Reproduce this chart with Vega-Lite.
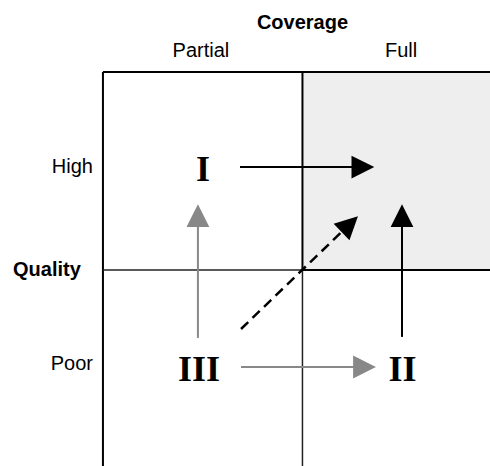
{
  "$schema": "https://vega.github.io/schema/vega-lite/v6.json",
  "width": 490,
  "height": 466,
  "autosize": "none",
  "padding": 0,
  "background": "white",
  "config": {"view": {"stroke": null}},
  "datasets": {
    "quad": [{"x": 1, "y": 1, "x2": 1.96, "y2": 2}],
    "frame": [
      {"x": 0, "y": 2, "x2": 1, "y2": 2},
      {"x": 0, "y": 2, "x2": 0, "y2": 0}
    ],
    "inner": [
      {"x": 0, "y": 1, "x2": 1, "y2": 1},
      {"x": 1, "y": 1, "x2": 1, "y2": 0}
    ],
    "blackShafts": [
      {"x": 0.687, "y": 1.52, "x2": 1.263, "y2": 1.52},
      {"x": 1.499, "y": 0.662, "x2": 1.499, "y2": 1.242}
    ],
    "greyShafts": [
      {"x": 0.476, "y": 0.657, "x2": 0.476, "y2": 1.242},
      {"x": 0.692, "y": 0.51, "x2": 1.268, "y2": 0.51}
    ],
    "dashed": [{"x": 0.692, "y": 0.702, "x2": 1.201, "y2": 1.197}],
    "heads": [
      {"x": 1.303, "y": 1.52, "dir": "right", "tone": "black"},
      {"x": 1.499, "y": 1.275, "dir": "up", "tone": "black"},
      {"x": 1.237, "y": 1.232, "dir": "diag", "tone": "black"},
      {"x": 0.476, "y": 1.275, "dir": "up", "tone": "grey"},
      {"x": 1.311, "y": 0.51, "dir": "right", "tone": "grey"}
    ],
    "colLabels": [
      {"x": 0.491, "y": 2.076, "label": "Partial"},
      {"x": 1.494, "y": 2.076, "label": "Full"}
    ],
    "rowLabels": [
      {"x": -0.05, "y": 1.49, "label": "High"},
      {"x": -0.05, "y": 0.495, "label": "Poor"}
    ],
    "titles": [
      {"x": 1.0, "y": 2.217, "label": "Coverage"},
      {"x": -0.281, "y": 0.97, "label": "Quality"}
    ],
    "numerals": [
      {"x": 0.501, "y": 1.449, "label": "I"},
      {"x": 0.481, "y": 0.439, "label": "III"},
      {"x": 1.501, "y": 0.439, "label": "II"}
    ]
  },
  "encoding": {
    "x": {"field": "x", "type": "quantitative", "scale": {"domain": [-0.516, 1.94], "nice": false, "zero": false}, "axis": null},
    "y": {"field": "y", "type": "quantitative", "scale": {"domain": [0.01, 2.364], "nice": false, "zero": false}, "axis": null}
  },
  "layer": [
    {
      "data": {"name": "quad"},
      "mark": {"type": "rect", "fill": "#eeeeee", "stroke": "#000000", "strokeWidth": 2},
      "encoding": {"x2": {"field": "x2"}, "y2": {"field": "y2"}}
    },
    {
      "data": {"name": "frame"},
      "mark": {"type": "rule", "color": "#000000", "strokeWidth": 2},
      "encoding": {"x2": {"field": "x2"}, "y2": {"field": "y2"}}
    },
    {
      "data": {"name": "inner"},
      "mark": {"type": "rule", "color": "#222222", "strokeWidth": 1.5},
      "encoding": {"x2": {"field": "x2"}, "y2": {"field": "y2"}}
    },
    {
      "data": {"name": "blackShafts"},
      "mark": {"type": "rule", "color": "#000000", "strokeWidth": 2},
      "encoding": {"x2": {"field": "x2"}, "y2": {"field": "y2"}}
    },
    {
      "data": {"name": "greyShafts"},
      "mark": {"type": "rule", "color": "#888888", "strokeWidth": 2},
      "encoding": {"x2": {"field": "x2"}, "y2": {"field": "y2"}}
    },
    {
      "data": {"name": "dashed"},
      "mark": {"type": "rule", "color": "#000000", "strokeWidth": 2.5, "strokeDash": [10, 6]},
      "encoding": {"x2": {"field": "x2"}, "y2": {"field": "y2"}}
    },
    {
      "data": {"name": "heads"},
      "mark": {"type": "point", "filled": true, "opacity": 1, "size": 520, "strokeWidth": 0},
      "encoding": {
        "shape": {"field": "dir", "type": "nominal", "legend": null,
          "scale": {"domain": ["right", "up", "diag"],
            "range": ["M-1,-1L1,0L-1,1Z", "M-1,1L0,-1L1,1Z", "M-1.414,-0.025L0.719,-0.695L-0.025,1.414Z"]}},
        "color": {"field": "tone", "type": "nominal", "legend": null,
          "scale": {"domain": ["black", "grey"], "range": ["#000000", "#888888"]}}
      }
    },
    {
      "data": {"name": "colLabels"},
      "mark": {"type": "text", "font": "Liberation Sans", "fontSize": 20, "align": "center", "baseline": "alphabetic", "color": "#000000"},
      "encoding": {"text": {"field": "label"}}
    },
    {
      "data": {"name": "rowLabels"},
      "mark": {"type": "text", "font": "Liberation Sans", "fontSize": 20, "align": "right", "baseline": "alphabetic", "color": "#000000"},
      "encoding": {"text": {"field": "label"}}
    },
    {
      "data": {"name": "titles"},
      "mark": {"type": "text", "font": "Liberation Sans", "fontSize": 20, "fontWeight": "bold", "align": "center", "baseline": "alphabetic", "color": "#000000"},
      "encoding": {"text": {"field": "label"}}
    },
    {
      "data": {"name": "numerals"},
      "mark": {"type": "text", "font": "Liberation Serif", "fontSize": 36, "fontWeight": "bold", "align": "center", "baseline": "alphabetic", "color": "#000000"},
      "encoding": {"text": {"field": "label"}}
    }
  ]
}
